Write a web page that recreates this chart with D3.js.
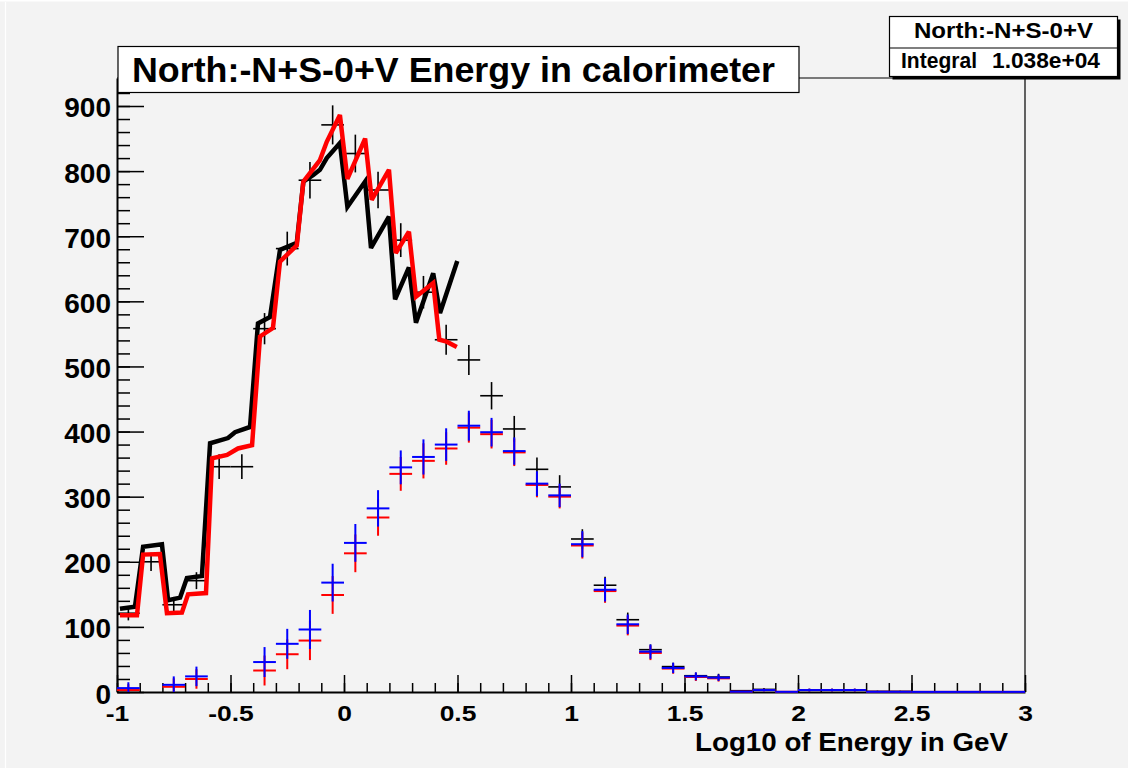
<!DOCTYPE html>
<html>
<head>
<meta charset="utf-8">
<script src="https://cdn.jsdelivr.net/npm/d3@7"></script>
<style>
  body { margin: 0; background: #f3f3f3; }
  svg { display: block; }
  text { font-family: "Liberation Sans", Arial, Helvetica, sans-serif; font-weight: bold; fill: #000; }
</style>
</head>
<body>
<svg id="canvas" width="1128" height="768"></svg>
<script>
// ---- histogram bins (log10 E, bin width 0.1) ----
const binCenters = [-0.95,-0.85,-0.75,-0.65,-0.55,-0.45,-0.35,-0.25,-0.15,-0.05,
                    0.05,0.15,0.25,0.35,0.45,0.55,0.65,0.75,0.85,0.95,
                    1.05,1.15,1.25,1.35,1.45,1.55,1.65,1.75,1.85,1.95,
                    2.05,2.15,2.25,2.35,2.45,2.55,2.65,2.75,2.85,2.95];
const binHalfWidth = 0.05;

// black histogram (counts and errors)
const blackCounts = [121,200,134,171,346,346,558,681,786,871,
                     827,771,694,614,541,510,455,404,342,315,
                     235,164,111,65,39,25,23,2,4,0,
                     3,3,3,1,1,0,0,0,0,0];
const blackErrors = [11,14,12,13,19,19,24,26,28,30,
                     29,28,26,25,23,23,21,20,18,18,
                     15,13,11,8,6,5,5,1,2,0,
                     2,2,2,1,1,0,0,0,0,0];

// weighted histograms (blue and red) and their errors
const blueCounts = [6,0,11,24,0,0,46,74,96,168,
                    229,282,345,361,380,409,399,370,320,302,
                    227,157,104,62,37,24,22,0.5,3,0.3,
                    3,3,3,0.3,0.3,0.2,0.2,0.2,0.2,0.2];
const redCounts  = [3,0,8,20,0,0,33,58,79,149,
                    213,268,335,355,374,406,396,368,318,300,
                    225,155,102,60,36,23,21,0.5,3,0.3,
                    3,3,3,0.3,0.3,0.2,0.2,0.2,0.2,0.2];
const weightedErrors = [9,0,13,15,0,0,23,23,30,29,
                        29,28,26,27,25,23,22,21,19,18,
                        20,18,15,11,8,6,5,1,2,0,
                        2,2,2,0,0,0,0,0,0,0];

// black and red polylines
const blackLineX = [-0.987,-0.921,-0.885,-0.802,-0.775,-0.722,-0.692,-0.626,-0.590,-0.511,
                    -0.480,-0.414,-0.379,-0.326,-0.282,-0.208,-0.179,-0.135,-0.106,-0.076,
                    -0.018,0.015,0.093,0.119,0.198,0.225,0.286,0.317,0.393,0.423,0.499];
const blackLineY = [128,131,223,227,141,145,175,178,382,390,
                    399,407,566,576,679,690,784,794,802,820,
                    843,745,784,682,730,603,652,567,643,582,662];
const redLineX = [-0.987,-0.912,-0.885,-0.811,-0.780,-0.714,-0.687,-0.608,-0.581,-0.515,
                  -0.467,-0.405,-0.370,-0.313,-0.282,-0.208,-0.179,-0.106,-0.076,-0.018,
                  0.015,0.093,0.122,0.198,0.228,0.286,0.317,0.393,0.420,0.452,0.497];
const redLineY = [118,118,211,212,121,122,150,152,359,364,
                  374,379,546,559,661,686,784,817,845,886,
                  788,850,756,802,674,707,607,628,541,538,530];

// axes
const xMajorTicks = [-1,-0.5,0,0.5,1,1.5,2,2.5,3];
const xTickLabels = ["-1","-0.5","0","0.5","1","1.5","2","2.5","3"];
const yMajorTicks = [0,100,200,300,400,500,600,700,800,900];
const yTickLabels = ["0","100","200","300","400","500","600","700","800","900"];
const xTitle = "Log10 of Energy in GeV";
const plotTitle = "North:-N+S-0+V Energy in calorimeter";
const statsName = "North:-N+S-0+V";
const statsKey = "Integral";
const statsValue = "1.038e+04";

const svg = d3.select("#canvas");
const W = 1128, H = 768;
const frame = { left: 117, right: 1025, top: 78, bottom: 692 };

svg.append("rect").attr("width", W).attr("height", H).attr("fill", "#f3f3f3");
svg.append("rect").attr("x", 0).attr("y", 0).attr("width", W).attr("height", 1.5).attr("fill", "#fff");
svg.append("line").attr("x1", 5.5).attr("x2", 5.5).attr("y1", 2).attr("y2", H)
  .attr("stroke", "#fff").attr("stroke-width", 1.2);

const x = d3.scaleLinear().domain([-1, 3]).range([frame.left, frame.right]);
const y = d3.scaleLinear().domain([0, 943]).range([frame.bottom, frame.top]);

svg.append("defs").append("clipPath").attr("id", "plotClip")
  .append("rect").attr("x", frame.left).attr("y", frame.top)
  .attr("width", frame.right - frame.left).attr("height", frame.bottom - frame.top + 1);

// frame (top and right)
svg.append("path")
  .attr("d", `M${frame.left},${frame.top}H${frame.right}V${frame.bottom}`)
  .attr("fill", "none").attr("stroke", "#000").attr("stroke-width", 1.2);

// x axis: minor then major ticks
const xMinor = d3.range(-10, 31).map(i => i / 10);
svg.append("g").attr("transform", `translate(0,${frame.bottom})`)
  .call(d3.axisBottom(x).tickValues(xMinor).tickSizeInner(-9).tickSizeOuter(0).tickFormat(""))
  .call(g => g.select(".domain").remove())
  .call(g => g.selectAll("line").attr("stroke", "#000").attr("stroke-width", 1.5));

const gx = svg.append("g").attr("transform", `translate(0,${frame.bottom})`)
  .call(d3.axisBottom(x).tickValues(xMajorTicks).tickSizeInner(-17).tickSizeOuter(0)
        .tickFormat((d, i) => xTickLabels[i]))
  .call(g => g.select(".domain").attr("stroke", "#000").attr("stroke-width", 2))
  .call(g => g.selectAll("line").attr("stroke", "#000").attr("stroke-width", 1.5));
gx.selectAll("text")
  .attr("y", 28.5).attr("dy", null)
  .style("font-size", "22px")
  .attr("fill", "#000")
  .each(function () {
    const len = this.getComputedTextLength();
    d3.select(this).attr("textLength", len * 1.2).attr("lengthAdjust", "spacingAndGlyphs");
  });

// y axis: minor then major ticks
const yMinor = d3.range(0, 48).map(i => i * 20);
svg.append("g").attr("transform", `translate(${frame.left},0)`)
  .call(d3.axisLeft(y).tickValues(yMinor).tickSizeInner(-13).tickSizeOuter(0).tickFormat(""))
  .call(g => g.select(".domain").remove())
  .call(g => g.selectAll("line").attr("stroke", "#000").attr("stroke-width", 1.5));

const gy = svg.append("g").attr("transform", `translate(${frame.left},0)`)
  .call(d3.axisLeft(y).tickValues(yMajorTicks).tickSizeInner(-27).tickSizeOuter(0)
        .tickPadding(6).tickFormat((d, i) => yTickLabels[i]))
  .call(g => g.select(".domain").attr("stroke", "#000").attr("stroke-width", 2))
  .call(g => g.selectAll("line").attr("stroke", "#000").attr("stroke-width", 1.5));
gy.selectAll("text")
  .attr("dy", null).attr("y", 11)
  .style("font-size", "28px")
  .attr("fill", "#000");

// x axis title
svg.append("text")
  .attr("x", 1008).attr("y", 750.5)
  .attr("text-anchor", "end")
  .style("font-size", "26px")
  .attr("textLength", 313).attr("lengthAdjust", "spacingAndGlyphs")
  .text(xTitle);

// plotting layer
const plot = svg.append("g").attr("clip-path", "url(#plotClip)");

function drawCrosses(counts, errors, color, width, skipEmpty) {
  const rows = binCenters.map((c, i) => ({ c, v: counts[i], e: errors[i] }))
    .filter(d => !(skipEmpty && d.v === 0));
  const g = plot.append("g").attr("stroke", color).attr("stroke-width", width).attr("fill", "none");
  g.selectAll("line.h").data(rows).join("line").attr("class", "h")
    .attr("x1", d => x(d.c - binHalfWidth)).attr("x2", d => x(d.c + binHalfWidth))
    .attr("y1", d => y(d.v)).attr("y2", d => y(d.v));
  g.selectAll("line.v").data(rows.filter(d => d.e > 0)).join("line").attr("class", "v")
    .attr("x1", d => x(d.c)).attr("x2", d => x(d.c))
    .attr("y1", d => y(Math.max(0, d.v - d.e))).attr("y2", d => y(d.v + d.e));
}

drawCrosses(blackCounts, blackErrors, "#000", 1.6, true);
drawCrosses(redCounts, weightedErrors, "#ff0000", 2, true);
drawCrosses(blueCounts, weightedErrors, "#0000ff", 2, true);

const lineGen = d3.line().x(d => x(d[0])).y(d => y(d[1]));
plot.append("path")
  .attr("d", lineGen(blackLineX.map((v, i) => [v, blackLineY[i]])))
  .attr("fill", "none").attr("stroke", "#000").attr("stroke-width", 4.5)
  .attr("stroke-linejoin", "miter").attr("stroke-miterlimit", 3);
plot.append("path")
  .attr("d", lineGen(redLineX.map((v, i) => [v, redLineY[i]])))
  .attr("fill", "none").attr("stroke", "#ff0000").attr("stroke-width", 4.5)
  .attr("stroke-linejoin", "miter").attr("stroke-miterlimit", 3);

// title box
svg.append("rect")
  .attr("x", 118).attr("y", 46.5).attr("width", 681).attr("height", 46)
  .attr("fill", "#fff").attr("stroke", "#000").attr("stroke-width", 1.2);
svg.append("text")
  .attr("x", 132).attr("y", 82)
  .style("font-size", "35px")
  .attr("textLength", 643).attr("lengthAdjust", "spacingAndGlyphs")
  .text(plotTitle);

// statistics box
const sb = { x: 889.5, y: 16.5, w: 228, h: 60 };
svg.append("rect")
  .attr("x", sb.x + 3).attr("y", sb.y + 3).attr("width", sb.w).attr("height", sb.h)
  .attr("fill", "#000");
svg.append("rect")
  .attr("x", sb.x).attr("y", sb.y).attr("width", sb.w).attr("height", sb.h)
  .attr("fill", "#fff").attr("stroke", "#000").attr("stroke-width", 1.2);
svg.append("line")
  .attr("x1", sb.x).attr("x2", sb.x + sb.w).attr("y1", 48).attr("y2", 48)
  .attr("stroke", "#000").attr("stroke-width", 1.2);
svg.append("text")
  .attr("x", sb.x + sb.w / 2).attr("y", 37.5).attr("text-anchor", "middle")
  .style("font-size", "22px")
  .attr("textLength", 179).attr("lengthAdjust", "spacingAndGlyphs")
  .text(statsName);
svg.append("text")
  .attr("x", 901).attr("y", 68)
  .style("font-size", "22px")
  .attr("textLength", 76).attr("lengthAdjust", "spacingAndGlyphs")
  .text(statsKey);
svg.append("text")
  .attr("x", 1100).attr("y", 68).attr("text-anchor", "end")
  .style("font-size", "22px")
  .attr("textLength", 108).attr("lengthAdjust", "spacingAndGlyphs")
  .text(statsValue);
</script>
</body>
</html>
